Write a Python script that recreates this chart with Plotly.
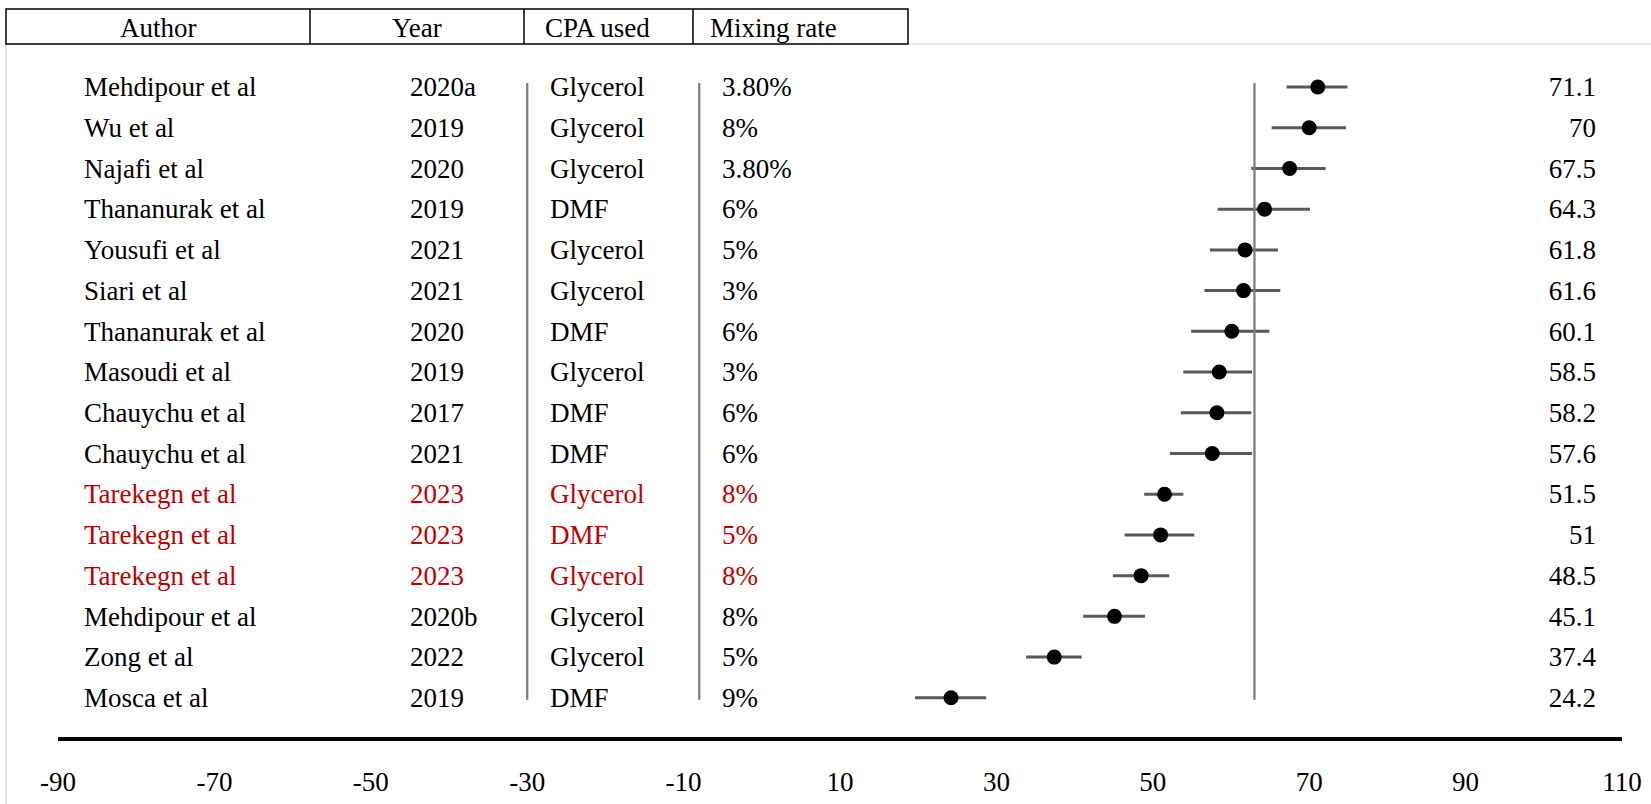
import plotly.graph_objects as go

# ---- data ----
authors = ["Mehdipour et al", "Wu et al", "Najafi et al", "Thananurak et al", "Yousufi et al",
           "Siari et al", "Thananurak et al", "Masoudi et al", "Chauychu et al", "Chauychu et al",
           "Tarekegn et al", "Tarekegn et al", "Tarekegn et al", "Mehdipour et al", "Zong et al",
           "Mosca et al"]
years = ["2020a", "2019", "2020", "2019", "2021", "2021", "2020", "2019", "2017", "2021",
         "2023", "2023", "2023", "2020b", "2022", "2019"]
cpa = ["Glycerol", "Glycerol", "Glycerol", "DMF", "Glycerol", "Glycerol", "DMF", "Glycerol",
       "DMF", "DMF", "Glycerol", "DMF", "Glycerol", "Glycerol", "Glycerol", "DMF"]
mixing = ["3.80%", "8%", "3.80%", "6%", "5%", "3%", "6%", "3%", "6%", "6%",
          "8%", "5%", "8%", "8%", "5%", "9%"]
values = [71.1, 70, 67.5, 64.3, 61.8, 61.6, 60.1, 58.5, 58.2, 57.6, 51.5, 51, 48.5, 45.1, 37.4, 24.2]
ci_low = [67.1, 65.2, 62.6, 58.3, 57.3, 56.6, 54.9, 53.9, 53.6, 52.2, 48.9, 46.4, 44.9, 41.1, 33.8, 19.6]
ci_high = [74.9, 74.7, 72.1, 70.1, 66.0, 66.3, 64.9, 62.7, 62.6, 62.7, 53.9, 55.3, 52.1, 49.0, 40.9, 28.7]
highlight = [a == "Tarekegn et al" for a in authors]
pooled = 63
headers = ["Author", "Year", "CPA used", "Mixing rate"]
xticks = list(range(-90, 111, 20))

# ---- layout geometry ----
W, H = 1651, 804
ML, MR, MT, MB = 58, 29, 0, 67
PW = W - ML - MR
PH = H - MT - MB
XMIN, XMAX = -90, 110
ROW0_PX, ROW_STEP = 87.0, 40.72
TEXT_DY = 2.5 / ROW_STEP  # small downward nudge so text sits centred like the reference


def px2x(px):
    return XMIN + (px - ML) / PW * (XMAX - XMIN)


def paper_x(px):
    return (px - ML) / PW


def paper_y(py):
    return (H - MB - py) / PH


FONT = "Liberation Serif, Times New Roman, serif"
FS = 27
RED = "#C00000"
colors = [RED if h else "black" for h in highlight]
rows = list(range(len(authors)))
text_rows = [r + TEXT_DY for r in rows]

fig = go.Figure()

# text columns
for col_px, col_text in [(84, authors), (410, years), (550, cpa), (722, mixing)]:
    fig.add_trace(go.Scatter(
        x=[px2x(col_px)] * len(rows), y=text_rows, mode="text", text=col_text,
        textposition="middle right",
        textfont=dict(family=FONT, size=FS, color=colors),
        hoverinfo="skip", showlegend=False))

# value labels (right aligned)
fig.add_trace(go.Scatter(
    x=[px2x(1596)] * len(rows), y=text_rows, mode="text",
    text=[("%g" % v) for v in values], textposition="middle left",
    textfont=dict(family=FONT, size=FS, color="black"),
    hoverinfo="skip", showlegend=False))

# forest points
fig.add_trace(go.Scatter(
    x=values, y=rows, mode="markers",
    marker=dict(color="black", size=15, symbol="circle"),
    error_x=dict(type="data", symmetric=False,
                 array=[h - v for h, v in zip(ci_high, values)],
                 arrayminus=[v - l for l, v in zip(ci_low, values)],
                 color="#595959", thickness=3, width=0),
    hoverinfo="skip", showlegend=False))

# vertical lines: separators and pooled reference
for xv in [-30, -8, pooled]:
    fig.add_shape(type="line", xref="x", yref="y", x0=xv, x1=xv, y0=-0.1, y1=15.05,
                  line=dict(color="#7f7f7f", width=2.3))

# chart-area light border
fig.add_shape(type="rect", xref="paper", yref="paper",
              x0=paper_x(6), x1=paper_x(W + 10), y0=paper_y(44), y1=paper_y(H + 10),
              line=dict(color="#d9d9d9", width=1.2), layer="below")

# header table
top, bot = 9, 44
fig.add_shape(type="rect", xref="paper", yref="paper",
              x0=paper_x(6), x1=paper_x(908), y0=paper_y(bot), y1=paper_y(top),
              line=dict(color="black", width=1.5), fillcolor="white")
for dpx in [310, 524, 693]:
    fig.add_shape(type="line", xref="paper", yref="paper",
                  x0=paper_x(dpx), x1=paper_x(dpx), y0=paper_y(bot), y1=paper_y(top),
                  line=dict(color="black", width=1.5))
for (hx, anchor), txt in zip([(158, "center"), (417, "center"), (597, "center"), (708, "left")], headers):
    fig.add_annotation(xref="paper", yref="paper", x=paper_x(hx), y=paper_y(28),
                       text=txt, showarrow=False, xanchor=anchor, yanchor="middle",
                       font=dict(family=FONT, size=FS, color="black"))

fig.update_layout(
    width=W, height=H, autosize=False,
    margin=dict(l=ML, r=MR, t=MT, b=MB, pad=0),
    paper_bgcolor="white", plot_bgcolor="white",
    xaxis=dict(range=[XMIN, XMAX], tickvals=xticks, ticktext=[str(t) for t in xticks],
               showgrid=False, zeroline=False, showline=True, linecolor="black", linewidth=4,
               ticks="", ticklabelstandoff=18,
               tickfont=dict(family=FONT, size=FS, color="black"), fixedrange=True),
    yaxis=dict(range=[(PH - ROW0_PX) / ROW_STEP, -ROW0_PX / ROW_STEP],
               visible=False, showgrid=False, zeroline=False, fixedrange=True),
)

fig.write_html("out.html", config={"displayModeBar": False, "staticPlot": True},
               post_script="document.body.style.margin='0';document.body.style.overflow='hidden';")
